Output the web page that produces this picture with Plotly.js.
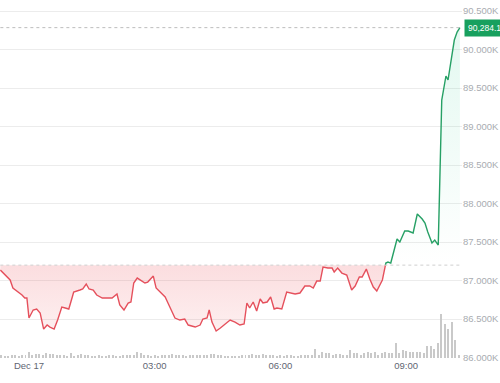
<!DOCTYPE html>
<html>
<head>
<meta charset="utf-8">
<script src="https://cdn.plot.ly/plotly-3.0.1.min.js"></script>
<style>html,body{margin:0;padding:0;background:#fff;}#chart{width:500px;height:383px;}</style>
</head>
<body>
<div id="chart"></div>
<script>
// ---- data ----
const openPrice = 87200;
const priceTimes = [
'2025-12-16 23:19','2025-12-16 23:28','2025-12-16 23:33','2025-12-16 23:37','2025-12-16 23:43','2025-12-16 23:50','2025-12-16 23:54','2025-12-16 23:57',
'2025-12-17 00:00','2025-12-17 00:06','2025-12-17 00:11','2025-12-17 00:16','2025-12-17 00:21','2025-12-17 00:26','2025-12-17 00:30','2025-12-17 00:36','2025-12-17 00:41','2025-12-17 00:47','2025-12-17 00:52','2025-12-17 00:57',
'2025-12-17 01:02','2025-12-17 01:04','2025-12-17 01:13','2025-12-17 01:17','2025-12-17 01:22','2025-12-17 01:26','2025-12-17 01:32','2025-12-17 01:37','2025-12-17 01:45','2025-12-17 01:52','2025-12-17 01:59',
'2025-12-17 02:06','2025-12-17 02:10','2025-12-17 02:16','2025-12-17 02:22','2025-12-17 02:26','2025-12-17 02:30','2025-12-17 02:35','2025-12-17 02:39','2025-12-17 02:46','2025-12-17 02:50','2025-12-17 02:58',
'2025-12-17 03:02','2025-12-17 03:08','2025-12-17 03:15','2025-12-17 03:19','2025-12-17 03:29','2025-12-17 03:36','2025-12-17 03:43','2025-12-17 03:48','2025-12-17 03:58',
'2025-12-17 04:05','2025-12-17 04:09','2025-12-17 04:15','2025-12-17 04:18','2025-12-17 04:22','2025-12-17 04:28','2025-12-17 04:34','2025-12-17 04:41','2025-12-17 04:48','2025-12-17 04:55',
'2025-12-17 05:02','2025-12-17 05:08','2025-12-17 05:12','2025-12-17 05:16','2025-12-17 05:21','2025-12-17 05:26','2025-12-17 05:31','2025-12-17 05:35','2025-12-17 05:41','2025-12-17 05:46','2025-12-17 05:51','2025-12-17 05:55',
'2025-12-17 06:02','2025-12-17 06:09','2025-12-17 06:15','2025-12-17 06:21','2025-12-17 06:28','2025-12-17 06:35','2025-12-17 06:42','2025-12-17 06:47','2025-12-17 06:52','2025-12-17 06:57',
'2025-12-17 07:01','2025-12-17 07:08','2025-12-17 07:14','2025-12-17 07:17','2025-12-17 07:22','2025-12-17 07:28','2025-12-17 07:35','2025-12-17 07:42','2025-12-17 07:47','2025-12-17 07:53','2025-12-17 07:57',
'2025-12-17 08:03','2025-12-17 08:08','2025-12-17 08:13','2025-12-17 08:18','2025-12-17 08:26','2025-12-17 08:31','2025-12-17 08:34','2025-12-17 08:38','2025-12-17 08:47','2025-12-17 08:51','2025-12-17 08:58',
'2025-12-17 09:03','2025-12-17 09:10','2025-12-17 09:16','2025-12-17 09:23','2025-12-17 09:27','2025-12-17 09:31','2025-12-17 09:37','2025-12-17 09:41','2025-12-17 09:46','2025-12-17 09:51','2025-12-17 09:57',
'2025-12-17 10:00','2025-12-17 10:04','2025-12-17 10:09','2025-12-17 10:13','2025-12-17 10:17'
];
const prices = [
87136,87058,87007,86903,86864,86812,86773,86773,
86513,86617,86630,86578,86370,86422,86396,86370,86487,86656,86643,86630,
86786,86851,86877,86890,86955,86890,86877,86812,86773,86773,86773,
86825,86682,86617,86708,86721,86968,87032,87007,86968,86980,87058,
86903,86851,86786,86708,86513,86487,86500,86422,86396,
86422,86500,86513,86617,86461,86344,86383,86435,86487,86461,
86422,86435,86708,86643,86721,86604,86760,86708,86721,86786,86630,86643,
86630,86851,86838,86825,86838,86929,86929,86903,86993,86993,
87175,87162,87162,87110,87162,87097,87071,86877,86929,87045,87045,
87149,87019,86916,86864,87007,87227,87240,87227,87539,87500,87643,
87643,87617,87864,87799,87747,87630,87487,87526,87461,89344,89656,
89604,89864,90123,90227,90284.1
];
// 5-minute volume bars starting 2025-12-16 23:20
const volumeStart = '2025-12-16 23:20';
const volumes = [
30,20,25,30,30,25,35,35,60,30, 40,40,35,50,40,45,35,30,30,25, 50,25,30,40,30,30,25,25,30,20,
25,30,30,20,25,30,30,35,30,60, 50,30,35,25,30,25,
30,30,35,45,30,35,30,25,35,30, 30,35,30,35,45,40,35,30,25,20, 20,25,20,30,35,30,40,35,30,45,
35,30,30,25,30,25,30,30,25,25,
27,27,27,27,93,33,60,47,47,33, 43,43,33,27,80,47,47,27,47,60, 47,60,33,47,60,47,47,150,47,80,
67,60,60,60,60,47,117,117,93,150, 440,340,290,360,180,27
];
const yTickVals = [86000,86500,87000,87500,88000,88500,89000,89500,90000,90500];
const yTickText = ['86.000K','86.500K','87.000K','87.500K','88.000K','88.500K','89.000K','89.500K','90.000K','90.500K'];
const xTickVals = ['2025-12-17 00:00','2025-12-17 03:00','2025-12-17 06:00','2025-12-17 09:00'];
const xTickText = ['Dec 17','03:00','06:00','09:00'];

// ---- build ----
const toMs = s => Date.parse(s.replace(' ','T') + ':00Z');
const tMs = priceTimes.map(toMs);
let k = prices.length - 1;
while (k > 0 && prices[k-1] > openPrice) k--;
const p0 = prices[k-1], p1 = prices[k];
const f = (openPrice - p0) / (p1 - p0);
const tCross = tMs[k-1] + f * (tMs[k] - tMs[k-1]);

const redX = tMs.slice(0, k).concat([tCross]);
const redY = prices.slice(0, k).concat([openPrice]);
const greenX = [tCross].concat(tMs.slice(k));
const greenY = [openPrice].concat(prices.slice(k));
const last = prices[prices.length-1];
const tFirst = tMs[0], tLast = tMs[tMs.length-1];

const RED = '#e5505c', GREEN = '#26a065';
const traces = [
  {y:volumes, type:'bar', yaxis:'y2', xaxis:'x',
   x0: volumeStart, dx: 300000, marker:{color:'#c9c9c9'}, width:170000, hoverinfo:'skip', showlegend:false},
  {x:[tFirst, tCross], y:[openPrice, openPrice], mode:'lines', line:{width:0, color:'rgba(0,0,0,0)'}, hoverinfo:'skip', showlegend:false},
  {x:redX, y:redY, mode:'lines', line:{color:RED, width:1.4}, fill:'tonexty',
   fillcolor:'rgba(234,57,67,0.13)',
   fillgradient:{type:'vertical', colorscale:[[0,'rgba(234,57,67,0.08)'],[1,'rgba(234,57,67,0.17)']]},
   hoverinfo:'skip', showlegend:false},
  {x:[tCross, tLast], y:[openPrice, openPrice], mode:'lines', line:{width:0, color:'rgba(0,0,0,0)'}, hoverinfo:'skip', showlegend:false},
  {x:greenX, y:greenY, mode:'lines', line:{color:GREEN, width:1.4}, fill:'tonexty',
   fillcolor:'rgba(22,199,132,0.07)',
   fillgradient:{type:'vertical', colorscale:[[0,'rgba(22,199,132,0.0)'],[1,'rgba(22,199,132,0.12)']]},
   hoverinfo:'skip', showlegend:false},
  {x:[tFirst, tLast], y:[openPrice, openPrice], mode:'lines', line:{color:'#cfcfcf', width:1, dash:'3px,3px'}, hoverinfo:'skip', showlegend:false},
  {x:[tFirst, tLast], y:[last, last], mode:'lines', line:{color:'#bdbdbd', width:1, dash:'dot'}, hoverinfo:'skip', showlegend:false}
];

const FONT = 'Liberation Sans, Arial, sans-serif';
const layout = {
  width:500, height:383,
  margin:{l:0, r:38, t:5, b:25},
  paper_bgcolor:'#ffffff', plot_bgcolor:'#ffffff',
  showlegend:false,
  xaxis:{type:'date', range:['2025-12-16 23:18:30','2025-12-17 10:20:00'],
    tickvals:xTickVals, ticktext:xTickText, showgrid:false, zeroline:false, showline:false,
    ticks:'', tickfont:{family:FONT, size:9.5, color:'#5f6672'}, fixedrange:true},
  yaxis:{side:'right', range:[85994, 90578], tickvals:yTickVals, ticktext:yTickText,
    showgrid:true, gridcolor:'#ececec', gridwidth:1, zeroline:false, showline:false, ticks:'',
    tickfont:{family:FONT, size:9.5, color:'#a9acb1'}, fixedrange:true},
  yaxis2:{overlaying:'y', range:[0, 3530], visible:false, fixedrange:true},
  bargap:0,
  annotations:[{xref:'paper', x:1, yref:'y', y:last, xanchor:'left', yanchor:'middle', xshift:2,
    text: last.toLocaleString('en-US',{minimumFractionDigits:1, maximumFractionDigits:1}),
    showarrow:false, bgcolor:'#18a05e', borderpad:3,
    font:{family:FONT, size:8.5, color:'#ffffff'}}]
};
Plotly.newPlot('chart', traces, layout, {displayModeBar:false, staticPlot:true});
</script>
</body>
</html>
